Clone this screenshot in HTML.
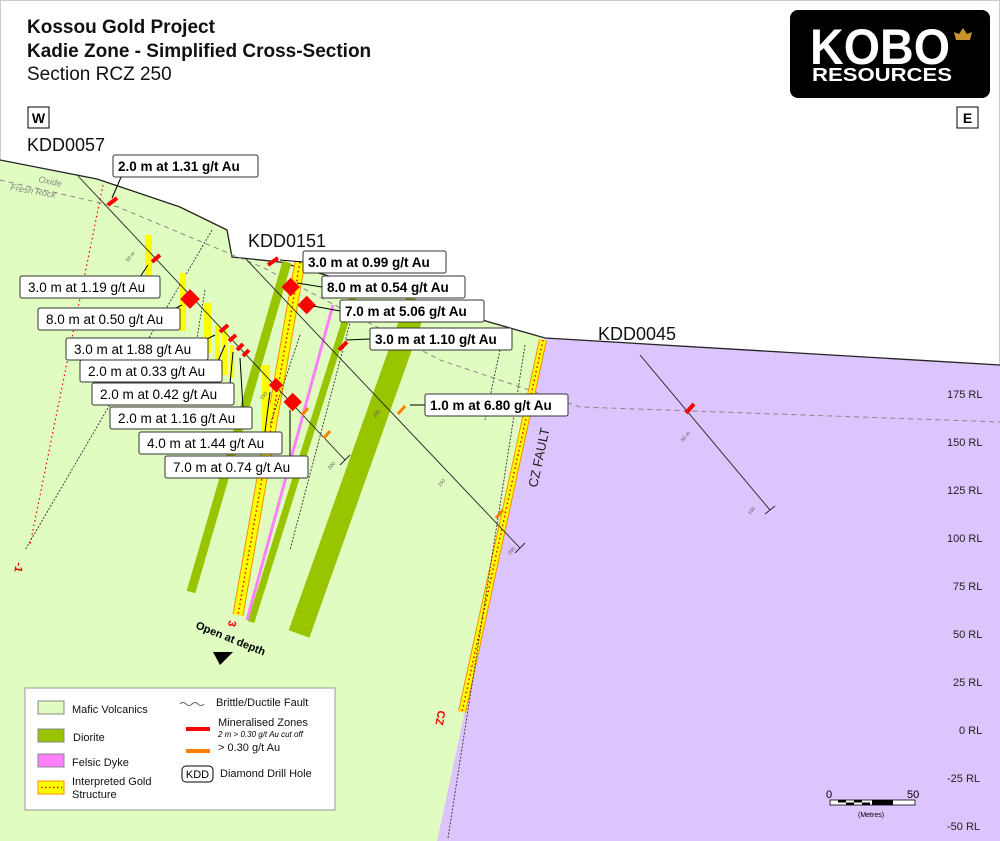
<!DOCTYPE html>
<html><head><meta charset="utf-8"><style>
html,body{margin:0;padding:0;background:#fff}
svg{display:block;font-family:"Liberation Sans",sans-serif}
</style></head><body>
<svg width="1000" height="841" viewBox="0 0 1000 841" xmlns="http://www.w3.org/2000/svg">
<rect x="0" y="0" width="1000" height="841" fill="#fff"/>
<rect x="0.5" y="0.5" width="999" height="840" fill="none" stroke="#ccc"/>
<polygon points="0,160 97,179 180,207 227,230 232,257 280,262 545,338 437,841 0,841" fill="#e0fcc0"/>
<polygon points="545,338 1000,365 1000,841 437,841" fill="#dcc4fc"/>
<polyline points="0,160 97,179 180,207 227,230 232,257 280,262 545,338 1000,365" fill="none" stroke="#222" stroke-width="1.3"/>
<polyline points="0,180 118,207 264,268 440,360 580,407 1000,422" fill="none" stroke="#888" stroke-width="1" stroke-dasharray="5,4"/>
<text x="38" y="182" font-size="9" fill="#888" font-style="italic" transform="rotate(12 38 182)">Oxide</text>
<text x="10" y="190" font-size="9" fill="#888" font-style="italic" transform="rotate(10 10 190)">Fresh Rock</text>
<line x1="287" y1="262" x2="191" y2="592" stroke="#99c400" stroke-width="9"/>
<line x1="355" y1="290" x2="251" y2="622" stroke="#99c400" stroke-width="7"/>
<line x1="418" y1="300" x2="299" y2="634" stroke="#99c400" stroke-width="22"/>
<line x1="333" y1="305" x2="247" y2="620" stroke="#ff80ff" stroke-width="3"/>
<line x1="300" y1="262" x2="238" y2="615" stroke="#ff8c00" stroke-width="11"/>
<line x1="300" y1="262" x2="238" y2="615" stroke="#ffff00" stroke-width="9"/>
<line x1="300" y1="262" x2="238" y2="615" stroke="#e00" stroke-width="1.5" stroke-dasharray="1.5,3"/>
<line x1="543" y1="340" x2="462" y2="712" stroke="#ff8c00" stroke-width="8"/>
<line x1="543" y1="340" x2="462" y2="712" stroke="#ffff00" stroke-width="6"/>
<line x1="543" y1="340" x2="462" y2="712" stroke="#e00" stroke-width="1.5" stroke-dasharray="1.5,3"/>
<line x1="103" y1="185" x2="30" y2="545" stroke="#e00" stroke-width="1.2" stroke-dasharray="1.5,3"/>
<g fill="none" stroke="#333" stroke-width="0.9" stroke-dasharray="2,1.5">
<line x1="212" y1="230" x2="25" y2="550"/>
<line x1="205" y1="290" x2="190" y2="380"/>
<line x1="356" y1="300" x2="290" y2="550"/>
<line x1="300" y1="335" x2="265" y2="440"/>
<line x1="525" y1="345" x2="448" y2="838"/>
<line x1="500" y1="350" x2="485" y2="420"/>
</g>
<g fill="#ffff00">
<rect x="145" y="235" width="7" height="56"/>
<rect x="180" y="273" width="6" height="58"/>
<rect x="204" y="303" width="7" height="50"/>
<rect x="215" y="325" width="5" height="45"/>
<rect x="222" y="330" width="5" height="45"/>
<rect x="230" y="345" width="4" height="33"/>
<rect x="262" y="365" width="8" height="70"/>
</g>
<g stroke="#222" stroke-width="0.9" fill="none">
<line x1="78" y1="176" x2="345" y2="460"/>
<line x1="340" y1="465" x2="350" y2="455"/>
<line x1="245" y1="258" x2="520" y2="548"/>
<line x1="515" y1="553" x2="525" y2="543"/>
<line x1="640" y1="355" x2="770" y2="510"/>
<line x1="765" y1="514" x2="775" y2="506"/>
</g>
<g font-size="5" fill="#555">
<text x="128" y="262" transform="rotate(-50 128 262)">50 m</text>
<text x="262" y="400" transform="rotate(-50 262 400)">150</text>
<text x="330" y="470" transform="rotate(-50 330 470)">200</text>
<text x="375" y="418" transform="rotate(-50 375 418)">100</text>
<text x="440" y="487" transform="rotate(-50 440 487)">150</text>
<text x="510" y="555" transform="rotate(-50 510 555)">200</text>
<text x="683" y="442" transform="rotate(-50 683 442)">50 m</text>
<text x="750" y="515" transform="rotate(-50 750 515)">100</text>
</g>
<g stroke="#f00" stroke-width="4">
<line x1="108" y1="205" x2="117" y2="198"/>
<line x1="152" y1="262" x2="160" y2="255"/>
<line x1="220" y1="332" x2="228" y2="325"/>
<line x1="229" y1="341" x2="236" y2="335"/>
<line x1="237" y1="350" x2="243" y2="344"/>
<line x1="243" y1="356" x2="249" y2="350"/>
<line x1="268" y1="265" x2="278" y2="258"/>
<line x1="339" y1="350" x2="347" y2="342"/>
<line x1="686" y1="413" x2="694" y2="404"/>
</g>
<g fill="#f00">
<rect x="183" y="292" width="14" height="14" transform="rotate(45 190 299)"/>
<rect x="286" y="395" width="13" height="13" transform="rotate(45 292 402)"/>
<rect x="284" y="280" width="13" height="13" transform="rotate(45 290 287)"/>
<rect x="300" y="298" width="13" height="13" transform="rotate(45 306 305)"/>
<rect x="271" y="380" width="10" height="10" transform="rotate(45 276 385)"/>
</g>
<g stroke="#ff7f00" stroke-width="3">
<line x1="302" y1="415" x2="308" y2="408"/>
<line x1="324" y1="438" x2="330" y2="431"/>
<line x1="398" y1="414" x2="405" y2="406"/>
<line x1="496" y1="518" x2="503" y2="510"/>
</g>
<g stroke="#000" stroke-width="1" fill="none">
<line x1="112" y1="198" x2="122" y2="175"/>
<line x1="148" y1="265" x2="140" y2="277"/>
<line x1="182" y1="305" x2="172" y2="310"/>
<line x1="215" y1="335" x2="205" y2="340"/>
<line x1="225" y1="345" x2="218" y2="361"/>
<line x1="233" y1="352" x2="230" y2="384"/>
<line x1="240" y1="358" x2="243" y2="408"/>
<line x1="270" y1="392" x2="265" y2="432"/>
<line x1="290" y1="410" x2="290" y2="456"/>
<line x1="280" y1="260" x2="303" y2="262"/>
<line x1="297" y1="283" x2="322" y2="287"/>
<line x1="313" y1="306" x2="340" y2="311"/>
<line x1="346" y1="340" x2="370" y2="339"/>
<line x1="410" y1="405" x2="425" y2="405"/>
</g>
<g font-size="13.5" stroke="#333" stroke-width="1">
<g fill="#fff">
<rect x="113" y="155" width="145" height="22" rx="2"/>
<rect x="20" y="276" width="140" height="22" rx="2"/>
<rect x="38" y="308" width="142" height="22" rx="2"/>
<rect x="66" y="338" width="142" height="22" rx="2"/>
<rect x="80" y="360" width="142" height="22" rx="2"/>
<rect x="92" y="383" width="142" height="22" rx="2"/>
<rect x="110" y="407" width="142" height="22" rx="2"/>
<rect x="139" y="432" width="143" height="22" rx="2"/>
<rect x="165" y="456" width="143" height="22" rx="2"/>
<rect x="303" y="251" width="143" height="22" rx="2"/>
<rect x="322" y="276" width="143" height="22" rx="2"/>
<rect x="340" y="300" width="144" height="22" rx="2"/>
<rect x="370" y="328" width="142" height="22" rx="2"/>
<rect x="425" y="394" width="143" height="22" rx="2"/>
</g>
</g>
<g font-size="13.5" fill="#000">
<g font-weight="bold">
<text x="118" y="171">2.0 m at 1.31 g/t Au</text>
<text x="308" y="267">3.0 m at 0.99 g/t Au</text>
<text x="327" y="292">8.0 m at 0.54 g/t Au</text>
<text x="345" y="316">7.0 m at 5.06 g/t Au</text>
<text x="375" y="344">3.0 m at 1.10 g/t Au</text>
<text x="430" y="410">1.0 m at 6.80 g/t Au</text>
</g>
<text x="28" y="292">3.0 m at 1.19 g/t Au</text>
<text x="46" y="324">8.0 m at 0.50 g/t Au</text>
<text x="74" y="354">3.0 m at 1.88 g/t Au</text>
<text x="88" y="376">2.0 m at 0.33 g/t Au</text>
<text x="100" y="399">2.0 m at 0.42 g/t Au</text>
<text x="118" y="423">2.0 m at 1.16 g/t Au</text>
<text x="147" y="448">4.0 m at 1.44 g/t Au</text>
<text x="173" y="472">7.0 m at 0.74 g/t Au</text>
</g>
<g font-size="18" fill="#111">
<text x="27" y="151">KDD0057</text>
<text x="248" y="247">KDD0151</text>
<text x="598" y="340">KDD0045</text>
</g>
<text x="27" y="33" font-size="19" font-weight="bold" fill="#111">Kossou Gold Project</text>
<text x="27" y="57" font-size="19" font-weight="bold" fill="#111">Kadie Zone - Simplified Cross-Section</text>
<text x="27" y="80" font-size="19" fill="#111">Section RCZ 250</text>
<rect x="28" y="107" width="21" height="21" fill="#fff" stroke="#000"/>
<text x="38.5" y="123" font-size="14" font-weight="bold" text-anchor="middle">W</text>
<rect x="957" y="107" width="21" height="21" fill="#fff" stroke="#000"/>
<text x="967.5" y="123" font-size="14" font-weight="bold" text-anchor="middle">E</text>
<rect x="790" y="10" width="200" height="88" rx="8" fill="#000"/>
<text x="810" y="64" font-size="50" font-weight="bold" fill="#fff" textLength="140" lengthAdjust="spacingAndGlyphs">KOBO</text>
<text x="812" y="81" font-size="18" font-weight="bold" fill="#fff" textLength="140" lengthAdjust="spacingAndGlyphs">RESOURCES</text>
<polygon points="963,28 967,34 972,32 970,40 956,40 954,32 959,34" fill="#c8922a"/>
<g font-size="11" fill="#222">
<text x="947" y="398">175 RL</text>
<text x="947" y="446">150 RL</text>
<text x="947" y="494">125 RL</text>
<text x="947" y="542">100 RL</text>
<text x="953" y="590">75 RL</text>
<text x="953" y="638">50 RL</text>
<text x="953" y="686">25 RL</text>
<text x="959" y="734">0 RL</text>
<text x="947" y="782">-25 RL</text>
<text x="947" y="830">-50 RL</text>
</g>
<text x="537" y="488" font-size="13" fill="#222" transform="rotate(-78 537 488)">CZ FAULT</text>
<text x="195" y="628" font-size="11" font-weight="bold" fill="#000" transform="rotate(22 195 628)">Open at depth</text>
<polygon points="213,652 233,652 220,665" fill="#000"/>
<text x="229" y="620" font-size="11" font-weight="bold" fill="#e00" transform="rotate(100 229 620)">3</text>
<text x="16" y="562" font-size="11" font-weight="bold" fill="#e00" transform="rotate(100 16 562)">-1</text>
<text x="438" y="710" font-size="11" font-weight="bold" fill="#e00" transform="rotate(100 438 710)">CZ</text>
<g>
<rect x="830" y="800" width="85" height="5" fill="#fff" stroke="#000" stroke-width="0.8"/>
<rect x="838" y="800" width="8" height="2.5" fill="#000"/><rect x="846" y="802.5" width="8" height="2.5" fill="#000"/>
<rect x="854" y="800" width="8" height="2.5" fill="#000"/><rect x="862" y="802.5" width="8" height="2.5" fill="#000"/>
<rect x="872" y="800" width="21" height="5" fill="#000"/>
<text x="826" y="798" font-size="11">0</text>
<text x="907" y="798" font-size="11">50</text>
<text x="858" y="817" font-size="7">(Metres)</text>
</g>
<rect x="25" y="688" width="310" height="122" fill="#fff" stroke="#999"/>
<g stroke="#888" stroke-width="1">
<rect x="38" y="701" width="26" height="13" fill="#e0fcc0"/>
<rect x="38" y="729" width="26" height="13" fill="#99c400"/>
<rect x="38" y="754" width="26" height="13" fill="#ff80ff"/>
</g>
<rect x="38" y="781" width="26" height="13" fill="#ffff00" stroke="#ff8c00"/>
<line x1="41" y1="787.5" x2="62" y2="787.5" stroke="#e00" stroke-width="1.5" stroke-dasharray="1.5,2.5"/>
<g font-size="11" fill="#111">
<text x="72" y="713">Mafic Volcanics</text>
<text x="73" y="741">Diorite</text>
<text x="72" y="766">Felsic Dyke</text>
<text x="72" y="785">Interpreted Gold</text>
<text x="72" y="798">Structure</text>
<text x="216" y="706">Brittle/Ductile Fault</text>
<text x="218" y="726">Mineralised Zones</text>
<text x="218" y="751">&gt; 0.30 g/t Au</text>
<text x="220" y="777">Diamond Drill Hole</text>
</g>
<text x="218" y="737" font-size="8" font-style="italic">2 m &gt; 0.30 g/t Au cut off</text>
<path d="M180,704 q3,-3 6,0 t6,0 t6,0 t6,0" fill="none" stroke="#333" stroke-width="0.8"/>
<line x1="186" y1="729" x2="210" y2="729" stroke="#f00" stroke-width="4"/>
<line x1="186" y1="751" x2="210" y2="751" stroke="#ff7f00" stroke-width="4"/>
<rect x="182" y="766" width="31" height="16" rx="4" fill="#fff" stroke="#000"/>
<text x="197.5" y="778" font-size="11" text-anchor="middle">KDD</text>
</svg>
</body></html>
